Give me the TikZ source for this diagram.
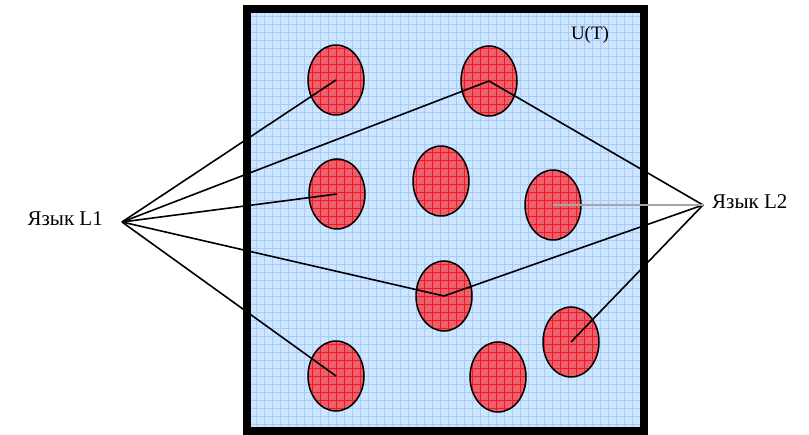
\documentclass[tikz,border=0pt]{standalone}
\usepackage{fontspec}
\setmainfont{Liberation Serif}
\usetikzlibrary{shapes.geometric}
\definecolor{skyfill}{RGB}{206,229,255}
\definecolor{skygrid}{RGB}{165,204,245}
\definecolor{blobfill}{RGB}{234,96,108}
\definecolor{blobgrid}{RGB}{245,20,35}

\begin{document}
\begin{tikzpicture}[x=1pt, y=-1pt,
  blob/.style={ellipse, draw, line width=1.5pt, minimum width=56pt, minimum height=70pt, inner sep=0pt},
  link/.style={line width=1.6pt, black},
  lab/.style={font=\fontsize{21}{24}\selectfont, inner sep=0pt}]
  \useasboundingbox (0,0) rectangle (809,435);

  % Universe U(T): light blue squared paper
  \fill[skyfill] (251,13) rectangle (640,427);
  \draw[skygrid, line width=0.7pt, step=8pt] (251,13) grid (640,427);

  % Red spots, squared paper shows through
  \begin{scope}
    \clip foreach \x/\y in {336/80, 489/81, 337/194, 441/181, 553/205,
                            444/296, 571/342, 336/376, 498/377} {(\x,\y) ellipse (28 and 35)};
    \fill[blobfill] (251,13) rectangle (640,427);
    \draw[blobgrid, line width=0.7pt, step=8pt] (251,13) grid (640,427);
  \end{scope}
  \foreach \n/\x/\y in {e1/336/80, e2/489/81, e3/337/194, e4/441/181, e5/553/205,
                        e6/444/296, e7/571/342, e8/336/376, e9/498/377}
    \node[blob] (\n) at (\x,\y) {};

  % Frame
  \draw[line width=8pt] (247,9) rectangle (644,431);
  \node[lab, font=\fontsize{19}{22}\selectfont] (ut) at (590,35) {U(T)};

  % Languages
  \node[lab, anchor=base east] (L1) at (103,226) {Язык L1};
  \node[lab, anchor=base west] (L2) at (712,209) {Язык L2};
  \coordinate (f1) at (122,222);
  \coordinate (f2) at (703,205);

  % Words of L1 and L2
  \foreach \n in {e1,e2,e3,e6,e8}
    \draw[link] (f1) -- (\n.center);
  \foreach \n in {e2,e6,e7}
    \draw[link] (f2) -- (\n.center);
  \draw[link, line width=2pt, gray!70] (f2) -- (e5.center);
\end{tikzpicture}
\end{document}
